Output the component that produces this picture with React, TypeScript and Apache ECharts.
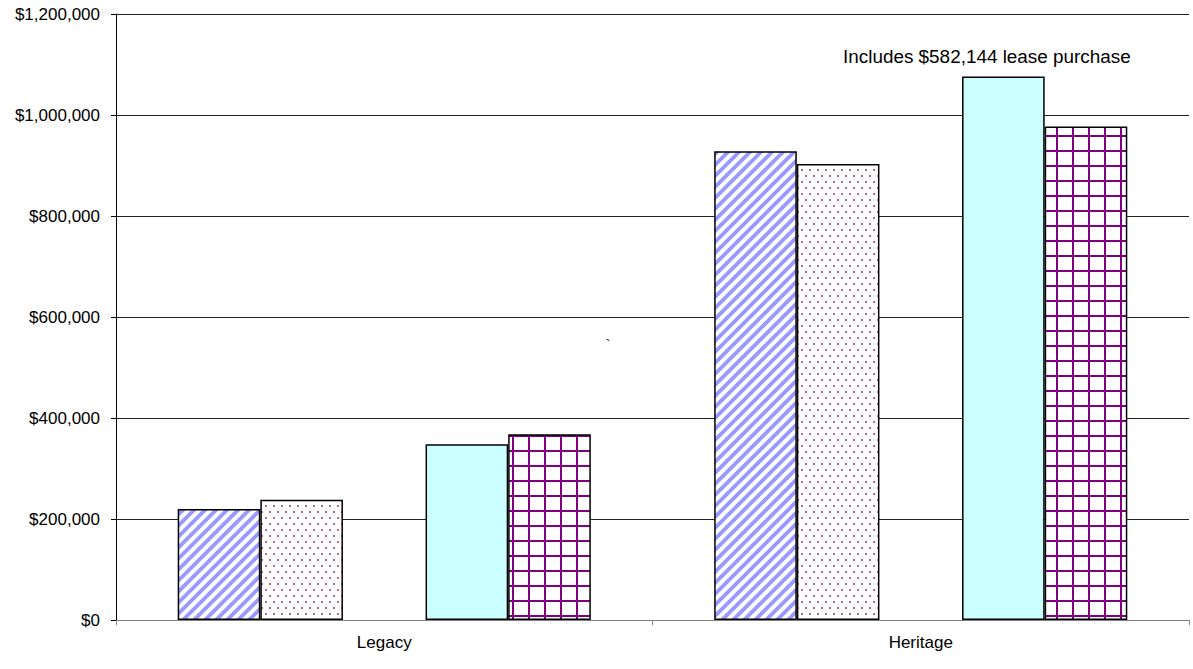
import React, { useEffect, useRef } from "react";
import * as echarts from "echarts";

const categories = ["Legacy", "Heritage"];
const stripedValues = [220000, 928000];
const dottedValues = [238000, 903000];
const spacerValues: (number | null)[] = [null, null];
const cyanValues = [348000, 1076000];
const gridValues = [368000, 977000];
const yMin = 0;
const yMax = 1200000;
const yInterval = 200000;
const noteText = "Includes $582,144 lease purchase";
const markText = "`";

const FONT = "'Liberation Sans', Arial, Helvetica, sans-serif";

function makeStripes(): HTMLCanvasElement {
  const s = 11;
  const c = document.createElement("canvas");
  c.width = s;
  c.height = s;
  const g = c.getContext("2d")!;
  g.fillStyle = "#ffffff";
  g.fillRect(0, 0, s, s);
  g.strokeStyle = "#9999ff";
  g.lineWidth = 3.8;
  g.beginPath();
  g.moveTo(-s, 2 * s);
  g.lineTo(2 * s, -s);
  g.moveTo(-s, s);
  g.lineTo(s, -s);
  g.moveTo(0, 2 * s);
  g.lineTo(2 * s, 0);
  g.stroke();
  return c;
}

function makeDots(): HTMLCanvasElement {
  const w = 8;
  const h = 12;
  const c = document.createElement("canvas");
  c.width = w;
  c.height = h;
  const g = c.getContext("2d")!;
  g.fillStyle = "#ffffff";
  g.fillRect(0, 0, w, h);
  g.fillStyle = "#c06690";
  g.fillRect(1, 1, 2, 2);
  g.fillRect(5, 7, 2, 2);
  return c;
}

function makeGrid(): HTMLCanvasElement {
  const w = 16;
  const h = 15;
  const c = document.createElement("canvas");
  c.width = w;
  c.height = h;
  const g = c.getContext("2d")!;
  g.fillStyle = "#ffffff";
  g.fillRect(0, 0, w, h);
  g.fillStyle = "#800080";
  g.fillRect(0, 0, 2, h);
  g.fillRect(0, 0, w, 2);
  return c;
}

export default function App() {
  const ref = useRef<HTMLDivElement>(null);

  useEffect(() => {
    if (!ref.current) return;
    const chart = echarts.init(ref.current, undefined, { renderer: "svg" });

    const border = { borderColor: "#000000", borderWidth: 1.5 };
    const barCommon = {
      type: "bar" as const,
      barGap: "0%",
      barCategoryGap: "23%",
    };

    const option: any = {
      animation: false,
      backgroundColor: "#ffffff",
      grid: { left: 116, right: 4, top: 14, bottom: 49 },
      xAxis: {
        type: "category",
        data: categories,
        axisLine: { show: true, lineStyle: { color: "#808080", width: 1 } },
        axisTick: { show: true, length: 5, lineStyle: { color: "#808080" } },
        axisLabel: { color: "#000000", fontSize: 17, fontFamily: FONT, margin: 14 },
        splitLine: { show: false },
      },
      yAxis: {
        type: "value",
        min: yMin,
        max: yMax,
        interval: yInterval,
        axisLine: { show: true, lineStyle: { color: "#000000", width: 1 } },
        axisTick: { show: true, length: 5, lineStyle: { color: "#000000" } },
        axisLabel: {
          color: "#000000",
          fontSize: 17,
          fontFamily: FONT,
          margin: 16,
          formatter: (v: number) => "$" + v.toLocaleString("en-US"),
        },
        splitLine: { show: true, lineStyle: { color: "#222222", width: 1 } },
      },
      series: [
        {
          ...barCommon,
          name: "Striped",
          data: stripedValues,
          itemStyle: { ...border, color: { image: makeStripes(), repeat: "repeat" } },
        },
        {
          ...barCommon,
          name: "Dotted",
          data: dottedValues,
          itemStyle: { ...border, color: { image: makeDots(), repeat: "repeat" } },
        },
        {
          ...barCommon,
          name: "Spacer",
          data: spacerValues,
          itemStyle: { color: "transparent" },
        },
        {
          ...barCommon,
          name: "Cyan",
          data: cyanValues,
          itemStyle: { ...border, color: "#ccffff" },
        },
        {
          ...barCommon,
          name: "Grid",
          data: gridValues,
          itemStyle: { ...border, color: { image: makeGrid(), repeat: "repeat" } },
        },
      ],
      graphic: [
        {
          type: "text",
          x: 843,
          y: 56,
          style: {
            text: noteText,
            fill: "#000000",
            fontSize: 18.9,
            fontFamily: FONT,
            textAlign: "left",
            textVerticalAlign: "middle",
          },
        },
        {
          type: "text",
          x: 608,
          y: 345,
          style: {
            text: markText,
            fill: "#000000",
            fontSize: 14,
            fontFamily: FONT,
            textAlign: "center",
            textVerticalAlign: "middle",
          },
        },
      ],
    };

    chart.setOption(option);
    return () => chart.dispose();
  }, []);

  return (
    <div
      ref={ref}
      style={{ position: "fixed", left: 0, top: 0, width: 1193, height: 669, background: "#fff" }}
    />
  );
}
